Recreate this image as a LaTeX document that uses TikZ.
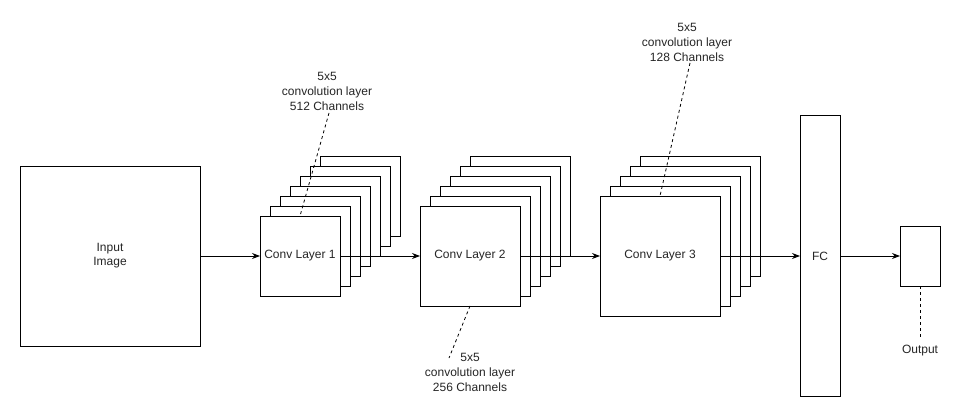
\documentclass[tikz,border=0pt]{standalone}
\usepackage{fontspec}
\setmainfont{Liberation Sans}
\usetikzlibrary{arrows.meta}
\begin{document}
\begin{tikzpicture}[x=1pt,y=-1pt,
  box/.style={draw=black,fill=white,line width=1pt,inner sep=0pt,outer sep=0pt,font=\fontsize{12}{14}\selectfont,text=black!85},
  lbl/.style={inner sep=0pt,align=center,font=\fontsize{12}{15}\selectfont,text=black!85},
  conn/.style={line width=1pt,-{Stealth[length=8pt,width=6pt]}},
  dashline/.style={line width=0.8pt,dash pattern=on 3pt off 3pt}]
\useasboundingbox[fill=white] (0,0) rectangle (971,417);
% input
\node[box,minimum width=180pt,minimum height=180pt,align=center] (in) at (110,256) {Input\\Image};
% conv 1 stack (7)
\foreach \i in {6,5,...,1}{
  \node[box,minimum width=80pt,minimum height=80pt] (c1b\i) at (300+10*\i,256-10*\i) {};
}
\node[box,minimum width=80pt,minimum height=80pt] (c1) at (300,256) {Conv Layer 1};
% conv 2 stack (6)
\foreach \i in {5,4,...,1}{
  \node[box,minimum width=100pt,minimum height=100pt] (c2b\i) at (470+10*\i,256-10*\i) {};
}
\node[box,minimum width=100pt,minimum height=100pt] (c2) at (470,256) {Conv Layer 2};
% conv 3 stack (5)
\foreach \i in {4,3,...,1}{
  \node[box,minimum width=120pt,minimum height=120pt] (c3b\i) at (660+10*\i,256-10*\i) {};
}
\node[box,minimum width=120pt,minimum height=120pt] (c3) at (660,256) {Conv Layer 3};
% FC and output
\node[box,minimum width=40pt,minimum height=280pt] (fc) at (820,256) {FC};
\node[box,minimum width=40pt,minimum height=60pt] (out) at (920,256) {};
% labels
\node[lbl] (l1) at (327,91) {5x5\\convolution layer\\512 Channels};
\node[lbl] (l2) at (470,372) {5x5\\convolution layer\\256 Channels};
\node[lbl] (l3) at (687,42) {5x5\\convolution layer\\128 Channels};
\node[lbl] (lo) at (920,351) {Output};
\coordinate (l1e) at (329,113);
\coordinate (l2e) at (449,358);
\coordinate (l3e) at (690,63);
\coordinate (loe) at (920,338);
% arrows
\draw[conn] (in.east) -- (c1.west);
\draw[conn] (c1.east) -- (c2.west);
\draw[conn] (c2.east) -- (c3.west);
\draw[conn] (c3.east) -- (fc.west);
\draw[conn] (fc.east) -- (out.west);
% dashed
\draw[dashline] (l1e) -- (c1.north);
\draw[dashline] (c2.south) -- (l2e);
\draw[dashline] (l3e) -- (c3.north);
\draw[dashline] (out.south) -- (loe);
\end{tikzpicture}
\end{document}
